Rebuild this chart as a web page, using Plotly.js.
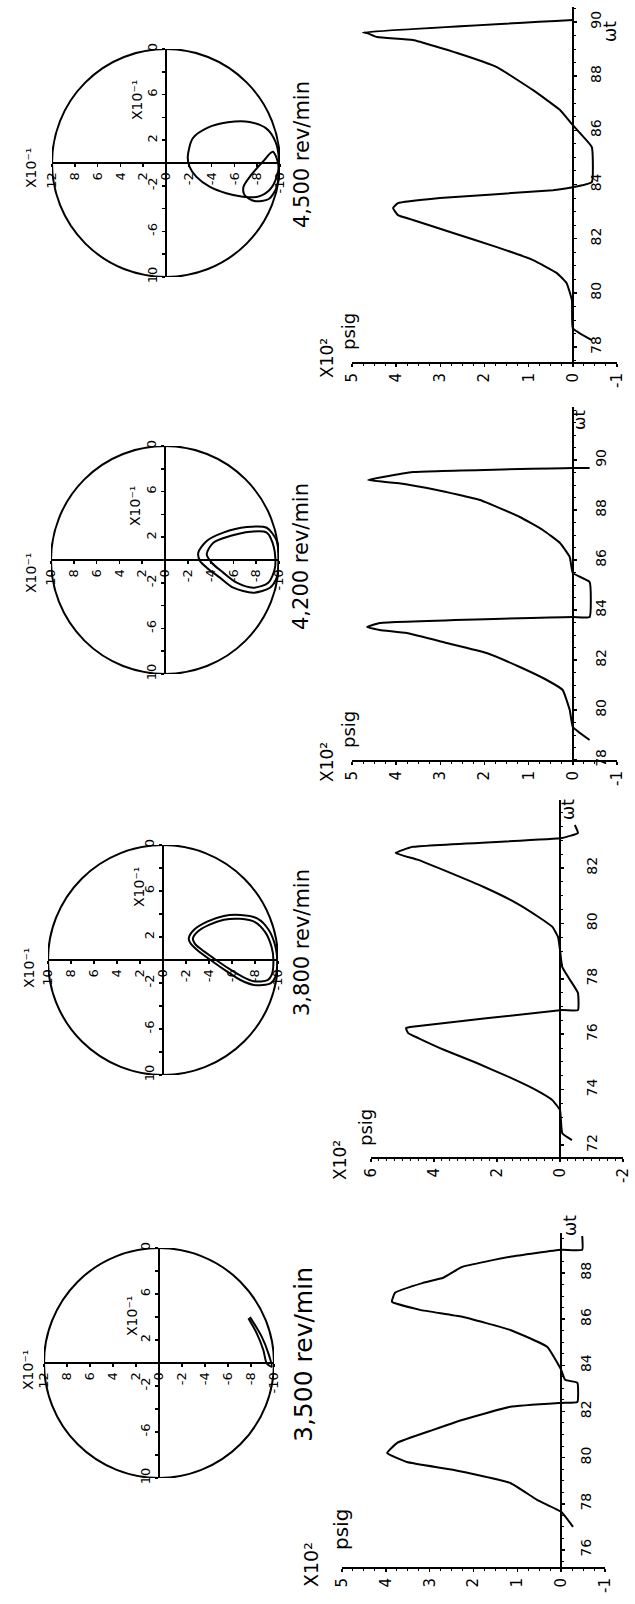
<!DOCTYPE html>
<html><head><meta charset="utf-8">
<script src="https://cdn.plot.ly/plotly-3.0.1.min.js"></script>
<style>html,body{margin:0;padding:0;background:#fff}</style>
</head><body><div id="chart" style="width:635px;height:1604px"></div>
<script>
// ================= DATA =================
const speedLabels = ["3,500 rev/min", "3,800 rev/min", "4,200 rev/min", "4,500 rev/min"];

// Pressure waveforms: ωt and pressure (x10^2 psig)
const wt3500 = [77.0, 77.65, 78.17, 78.9, 79.47, 79.81, 80.2, 80.64, 81.2, 81.63, 82.2, 82.37, 82.41, 83.24, 83.37, 83.8, 84.8, 85.53, 86.1, 86.4, 86.75, 87.14, 87.57, 87.79, 88.26, 88.7, 89.0, 89.0, 89.6];
const p3500  = [-0.27, 0, 0.55, 1.16, 2.47, 3.52, 3.97, 3.74, 2.92, 2.26, 1.16, 0, -0.37, -0.37, -0.09, 0, 0.32, 1.16, 2.26, 3.22, 3.86, 3.79, 3.15, 2.69, 2.26, 1.16, 0, -0.48, -0.48];

const wt3800 = [72.18, 72.43, 73.26, 73.62, 73.99, 74.45, 74.96, 75.43, 75.86, 76.04, 76.22, 76.26, 76.87, 76.87, 77.49, 78.06, 78.43, 79.04, 79.5, 79.87, 80.23, 80.74, 81.31, 81.82, 82.29, 82.54, 82.76, 83.08, 83.26, 83.55];
const p3800  = [-0.38, -0.07, 0, 0.24, 0.77, 1.61, 2.64, 3.67, 4.5, 4.82, 4.89, 4.76, -0.07, -0.57, -0.57, -0.26, -0.07, 0, 0.06, 0.24, 0.68, 1.4, 2.42, 3.48, 4.5, 5.22, 4.67, -0.07, -0.57, -0.47];

const wt4200 = [78.8, 79.32, 80.0, 80.8, 81.2, 81.72, 82.28, 82.68, 83.08, 83.2, 83.32, 83.48, 83.72, 83.72, 85.12, 85.48, 86.12, 86.68, 87.2, 87.72, 88.4, 88.8, 89.08, 89.2, 89.32, 89.52, 89.68, 89.68];
const p4200  = [-0.38, 0, 0.07, 0.23, 0.59, 1.2, 1.95, 2.85, 3.76, 4.37, 4.66, 4.37, 0, -0.38, -0.38, 0, 0.07, 0.29, 0.68, 1.2, 2.1, 3.08, 3.98, 4.64, 4.3, 3.62, 0, -0.38];

const wt4500 = [78.26, 78.7, 79.73, 80.36, 80.73, 81.21, 81.69, 82.21, 82.69, 82.87, 83.13, 83.31, 83.5, 83.79, 83.9, 84.09, 85.38, 85.9, 86.19, 86.75, 87.48, 88.33, 88.85, 89.33, 89.44, 89.59, 89.62, 90.07];
const p4500  = [-0.43, 0, 0.02, 0.14, 0.36, 0.9, 1.72, 2.71, 3.62, 3.96, 4.07, 3.96, 3.01, 0.45, 0, -0.43, -0.43, -0.16, 0, 0.29, 0.9, 1.72, 2.62, 3.62, 4.43, 4.66, 4.75, 0];

// Journal orbits (x10^-1)
const orb3500X = [-7.91, -8.93, -9.51, -9.8, -9.37, -9.07, -8.5, -7.77];
const orb3500Y = [4.0, 2.29, 0.84, -0.32, -0.03, 1.13, 2.58, 3.89];
const orb3800aX = [-2.24, -2.68, -3.84, -5.29, -6.74, -8.19, -9.2, -9.78, -9.93, -9.78, -9.35, -7.9, -6.74, -5.58, -4.13, -2.97, -2.39, -2.24];
const orb3800aY = [1.89, 2.61, 3.33, 3.83, 3.91, 3.62, 2.61, 1.16, 0, -1.45, -2.03, -2.17, -1.74, -1.01, 0, 0.87, 1.45, 1.89];
const orb3800bX = [-2.6, -3.0, -4.0, -5.3, -6.7, -8.0, -8.9, -9.45, -9.6, -9.45, -9.1, -7.9, -6.9, -5.8, -4.4, -3.3, -2.75, -2.6];
const orb3800bY = [1.85, 2.45, 3.05, 3.5, 3.58, 3.3, 2.4, 1.1, 0, -1.3, -1.75, -1.85, -1.45, -0.8, 0.15, 0.95, 1.45, 1.85];
const orb4200aX = [-2.92, -3.66, -5.11, -7.17, -8.92, -9.8, -9.95, -9.8, -9.21, -7.75, -5.99, -4.82, -3.66, -3.07, -2.92];
const orb4200aY = [0.64, 1.67, 2.4, 2.89, 2.83, 1.67, -0.09, -1.55, -2.43, -2.87, -2.43, -1.55, -0.67, -0.09, 0.64];
const orb4200bX = [-3.66, -4.24, -5.7, -7.46, -8.92, -9.56, -9.65, -9.06, -7.75, -6.29, -5.11, -4.1, -3.66];
const orb4200bY = [0.5, 1.52, 2.1, 2.48, 2.4, 1.08, -0.67, -1.99, -2.43, -1.99, -1.11, -0.24, 0.5];
const orb4500aX = [-1.91, -2.35, -3.67, -5.42, -7.32, -8.79, -9.6, -9.9, -9.72, -9.08, -8.05, -6.74, -5.28, -3.82, -2.65, -2.06, -1.91];
const orb4500aY = [0.55, 2.17, 3.1, 3.57, 3.6, 3.04, 1.87, 0.26, -1.2, -2.37, -2.96, -2.96, -2.66, -2.08, -1.2, -0.32, 0.55];
const orb4500bX = [-9.37, -9.9, -9.72, -9.02, -7.76, -6.89, -6.8, -7.47, -8.49, -9.37];
const orb4500bY = [0.99, -0.32, -2.08, -3.16, -3.33, -2.81, -2.08, -1.05, 0.11, 0.99];

// Tick values / labels
const orbLimit = 10;
const orbHTickVals = [10, 8, 6, 4, 2, 0, -2, -4, -6, -8, -10];
const orbHLeftLabels = ["12", "10", "10", "12"];
const orbHTickText = ["8", "6", "4", "2", "0", "-2", "-4", "-6", "-8", "-10"];
const orbVTickVals = [10, 6, 2, -2, -6, -10];
const orbVTickText = ["0", "6", "2", "-2", "-6", "10"];

const pTicks5 = [5, 4, 3, 2, 1, 0, -1];
const pTicks6 = [6, 4, 2, 0, -2];
const wtTicks3500 = [76, 78, 80, 82, 84, 86, 88];
const wtTicks3800 = [72, 74, 76, 78, 80, 82];
const wtTicks4200 = [78, 80, 82, 84, 86, 88, 90];
const wtTicks4500 = [78, 80, 82, 84, 86, 88, 90];

const scaleOrbit = "X10\u207B\u00B9";
const scalePres = "X10\u00B2";
const unitPres = "psig";
const unitWt = "ωt";

// ================= LAYOUT GEOMETRY (pixels) =================
const W = 635, H = 1604;
const fx = v => v / W, fy = v => 1 - v / H;
const FONT = "DejaVu Sans, Liberation Sans, sans-serif";

const circGeom = [
  {cx: 159, cy: 1363, r: 115},
  {cx: 163, cy: 960, r: 115},
  {cx: 165, cy: 560, r: 114},
  {cx: 166, cy: 163, r: 114}
];
const presGeom = [
  {x0: 342, x1: 605, pr: [5, -1], y0: 1233, y1: 1567, wr: [75.26, 89.73], pt: pTicks5, wt: wtTicks3500, so: 9},
  {x0: 371, x1: 623, pr: [6, -2], y0: 800, y1: 1157, wr: [71.57, 84.45], pt: pTicks6, wt: wtTicks3800, so: 16},
  {x0: 352, x1: 617, pr: [5, -1], y0: 407, y1: 760, wr: [78.0, 92.12], pt: pTicks5, wt: wtTicks4200, so: 12},
  {x0: 352, x1: 617, pr: [5, -1], y0: 7, y1: 362, wr: [77.45, 90.55], pt: pTicks5, wt: wtTicks4500, so: 7}
];
// rotated free texts: centre (px) and font size
const rotTexts = [
  {t: speedLabels[0], x: 303, y: 1355, s: 25},
  {t: speedLabels[1], x: 302, y: 943, s: 21},
  {t: speedLabels[2], x: 301, y: 557, s: 21},
  {t: speedLabels[3], x: 302, y: 155, s: 21},
  {t: scaleOrbit, x: 28, y: 1370, s: 14},
  {t: scaleOrbit, x: 29, y: 968, s: 14},
  {t: scaleOrbit, x: 31, y: 573, s: 14},
  {t: scaleOrbit, x: 31, y: 168, s: 14},
  {t: scaleOrbit, x: 132, y: 1316, s: 14},
  {t: scaleOrbit, x: 139, y: 887, s: 14},
  {t: scaleOrbit, x: 135, y: 506, s: 14},
  {t: scaleOrbit, x: 137, y: 100, s: 14},
  {t: scalePres, x: 311, y: 1565, s: 19},
  {t: scalePres, x: 340, y: 1160, s: 17},
  {t: scalePres, x: 327, y: 762, s: 17},
  {t: scalePres, x: 327, y: 358, s: 17},
  {t: unitPres, x: 341, y: 1530, s: 20},
  {t: unitPres, x: 365, y: 1128, s: 18},
  {t: unitPres, x: 348, y: 730, s: 18},
  {t: unitPres, x: 348, y: 332, s: 18},
  {t: unitWt, x: 570, y: 1226, s: 17},
  {t: unitWt, x: 568, y: 810, s: 17},
  {t: unitWt, x: 579, y: 420, s: 16},
  {t: unitWt, x: 610, y: 32, s: 17}
];

const layout = {
  width: W, height: H, margin: {l: 0, r: 0, t: 0, b: 0},
  paper_bgcolor: "#ffffff", plot_bgcolor: "rgba(0,0,0,0)",
  showlegend: false, font: {family: FONT, color: "#000", size: 13},
  shapes: [], annotations: []
};
const axBase = {
  showline: true, linewidth: 2, linecolor: "#000", showgrid: false, zeroline: false,
  ticks: "outside", ticklen: 3, tickwidth: 1.5, tickcolor: "#000",
  tickmode: "array", tickangle: -90, fixedrange: true, ticklabeloverflow: "allow",
  tickfont: {family: FONT, size: 13, color: "#000"}
};

const traces = [];
const lineStyle = {color: "#000", width: 2};

// ---- orbit (circle) panels ----
const orbits = [
  [[orb3500X, orb3500Y]],
  [[orb3800aX, orb3800aY], [orb3800bX, orb3800bY]],
  [[orb4200aX, orb4200aY], [orb4200bX, orb4200bY]],
  [[orb4500aX, orb4500aY], [orb4500bX, orb4500bY]]
];
circGeom.forEach((g, i) => {
  const n = i + 1, s = n === 1 ? "" : String(n);
  layout["xaxis" + s] = Object.assign({}, axBase, {
    domain: [fx(g.cx - g.r), fx(g.cx + g.r)], range: [orbLimit, -orbLimit],
    anchor: "free", position: fy(g.cy),
    tickvals: orbHTickVals, ticktext: [orbHLeftLabels[i]].concat(orbHTickText)
  });
  layout["yaxis" + s] = Object.assign({}, axBase, {
    domain: [fy(g.cy + g.r), fy(g.cy - g.r)], range: [-orbLimit, orbLimit],
    anchor: "free", position: fx(g.cx), side: "left",
    tickvals: orbVTickVals, ticktext: orbVTickText,
    minor: {tickmode: "linear", tick0: 0, dtick: 2, ticks: "outside", ticklen: 3, tickwidth: 1.5, tickcolor: "#000"}
  });
  layout.shapes.push({type: "circle", xref: "x" + s, yref: "y" + s,
    x0: -orbLimit, x1: orbLimit, y0: -orbLimit, y1: orbLimit,
    line: {color: "#000", width: 2}});
  orbits[i].forEach(o => traces.push({x: o[0], y: o[1], xaxis: "x" + s, yaxis: "y" + s,
    mode: "lines", line: Object.assign({shape: "spline", smoothing: 0.8}, lineStyle), hoverinfo: "skip"}));
});

// ---- pressure panels ----
const pres = [[p3500, wt3500], [p3800, wt3800], [p4200, wt4200], [p4500, wt4500]];
presGeom.forEach((g, i) => {
  const n = String(i + 5);
  const zeroPx = g.x0 + (g.x1 - g.x0) * g.pr[0] / (g.pr[0] - g.pr[1]);
  layout["xaxis" + n] = Object.assign({}, axBase, {
    domain: [fx(g.x0), fx(g.x1)], range: g.pr, anchor: "y" + n,
    tickvals: g.pt, ticktext: g.pt.map(String),
    tickfont: {family: FONT, size: 15, color: "#000"},
    minor: {tickmode: "linear", tick0: 0, dtick: 0.25, ticks: "outside", ticklen: 2, tickwidth: 1, tickcolor: "#000"}
  });
  layout["yaxis" + n] = Object.assign({}, axBase, {
    domain: [fy(g.y1), fy(g.y0)], range: g.wr, anchor: "free",
    position: fx(zeroPx), side: "right", ticklabelstandoff: g.so,
    tickvals: g.wt, ticktext: g.wt.map(String),
    tickfont: {family: FONT, size: 14, color: "#000"},
    minor: {tickmode: "linear", tick0: 0, dtick: 0.5, ticks: "outside", ticklen: 2, tickwidth: 1, tickcolor: "#000"}
  });
  traces.push({x: pres[i][0], y: pres[i][1], xaxis: "x" + n, yaxis: "y" + n,
    mode: "lines", line: Object.assign({shape: "spline", smoothing: 0.35}, lineStyle), hoverinfo: "skip"});
});

// ---- rotated free texts ----
rotTexts.forEach(r => layout.annotations.push({
  xref: "paper", yref: "paper", x: fx(r.x), y: fy(r.y), text: r.t,
  textangle: -90, showarrow: false, xanchor: "center", yanchor: "middle",
  font: {family: FONT, size: r.s, color: "#000"}
}));

Plotly.newPlot("chart", traces, layout, {staticPlot: true, displayModeBar: false});
</script>
</body></html>
